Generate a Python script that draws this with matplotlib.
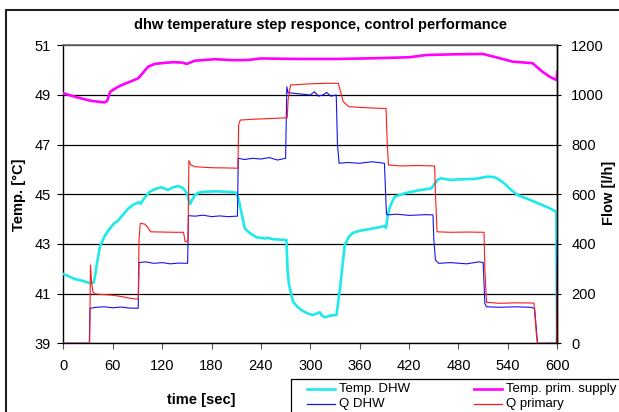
import matplotlib
matplotlib.use("Agg")
import matplotlib.pyplot as plt
from matplotlib.patches import Rectangle
from matplotlib.lines import Line2D

plt.rcParams['font.family'] = ['Liberation Sans', 'DejaVu Sans']

# ---------------- data ----------------
t_prim = [0, 15, 34, 50, 53, 57, 65, 71, 80, 91, 97, 103, 111, 125, 135, 145, 150, 160,
          184, 208, 225, 240, 287, 332, 380, 421, 441, 480, 510, 530, 546, 570, 581, 590,
          599, 600]
temp_prim = [49.07, 48.92, 48.76, 48.70, 48.75, 49.13, 49.30, 49.40, 49.52, 49.67, 49.90,
             50.14, 50.25, 50.30, 50.32, 50.30, 50.25, 50.38, 50.44, 50.40, 50.41, 50.47,
             50.45, 50.45, 50.48, 50.52, 50.61, 50.64, 50.65, 50.48, 50.34, 50.28, 49.96,
             49.75, 49.60, 49.92]

t_dhw = [0, 14, 25, 34, 37, 39, 41, 44.5, 50, 55, 61, 67, 73, 79, 85, 89, 92, 94, 97, 101,
         105, 112, 119, 124, 127, 133, 140, 145.6, 148, 151, 153.8, 156, 160, 164, 170, 185,
         200, 210, 213, 216.5, 220.5, 226, 234.7, 245, 248, 255, 271, 272.3, 274, 279, 285,
         291, 297, 303, 308, 311.5, 314, 317.6, 325, 331.8, 335.8, 341.9, 347, 352, 360, 370,
         380, 390.4, 392, 394.4, 398, 402.5, 414.7, 430, 447, 455, 459, 470, 480, 500, 515,
         523, 528, 537, 544, 552, 565, 576.5, 590, 598.8, 600]
temp_dhw = [41.79, 41.59, 41.50, 41.41, 41.45, 41.80, 42.25, 42.89, 43.30, 43.56, 43.80,
            43.96, 44.20, 44.43, 44.58, 44.64, 44.68, 44.62, 44.78, 44.95, 45.10, 45.22,
            45.28, 45.22, 45.17, 45.28, 45.33, 45.24, 45.15, 44.97, 44.60, 44.75, 44.97,
            45.06, 45.10, 45.12, 45.10, 45.06, 44.80, 44.23, 43.63, 43.45, 43.27, 43.22,
            43.25, 43.19, 43.16, 42.00, 41.40, 40.67, 40.45, 40.30, 40.20, 40.14, 40.20,
            40.25, 40.12, 40.05, 40.12, 40.14, 41.14, 42.96, 43.30, 43.45, 43.53, 43.59,
            43.65, 43.72, 43.65, 44.23, 44.60, 44.90, 45.04, 45.15, 45.24, 45.60, 45.64,
            45.58, 45.60, 45.62, 45.71, 45.70, 45.62, 45.40, 45.17, 44.97, 44.80, 44.64,
            44.45, 44.30, 38.0]

t_qdhw = [0, 31.6, 32.5, 40, 50, 60, 70, 80, 91, 92, 100, 110, 120, 130, 140, 151, 152, 160,
          170, 180, 190, 200, 211.5, 212.5, 220, 230, 240, 250, 260, 270, 271.5, 273, 285,
          300, 305, 310, 315, 320, 325, 331.5, 333, 335, 345, 360, 375, 390, 392.5, 393.5,
          405, 420, 440, 449, 450, 452, 456, 470, 490, 505, 510, 512, 514, 530, 550, 568,
          572.5, 576, 599, 600]
q_dhw = [0, 0, 141, 145, 147, 143, 146, 142, 141, 325, 328, 322, 325, 320, 323, 322, 514,
         512, 516, 510, 513, 510, 512, 745, 740, 745, 742, 748, 738, 745, 1033, 1009, 1005,
         1000, 1013, 995, 1000, 1010, 995, 1000, 800, 725, 728, 725, 731, 725, 520, 517,
         520, 515, 518, 517, 420, 335, 322, 325, 320, 328, 325, 160, 147, 145, 147, 145,
         140, 0, 0, 420]

t_qprim = [0, 32, 33, 34.5, 36, 38, 45, 59, 71, 80, 89, 91, 92, 93.5, 99, 103, 106, 120,
           135, 146, 148, 150, 151.5, 152.5, 155, 160, 180, 200, 212, 213, 215, 230, 250,
           272, 273, 276, 300, 320, 334, 337, 340, 346.7, 360, 385, 392, 393.5, 395, 410,
           430, 451, 452, 454, 470, 490, 511, 512, 514, 530, 550, 571.6, 575, 576, 599, 600]
q_prim = [0, 0, 315, 240, 208, 199, 197, 194, 188, 182, 178, 180, 420, 483, 480, 465, 449,
          448, 447, 447, 409, 412, 412, 736, 718, 711, 707, 706, 705, 880, 899, 902, 905,
          908, 980, 1040, 1045, 1047, 1047, 1010, 973, 953, 950, 946, 946, 800, 718, 714,
          716, 714, 600, 449, 447, 448, 447, 300, 165, 161, 163, 162, 20, 0, 0, 315]

x_ticks = list(range(0, 601, 60))
temp_ticks = list(range(39, 52, 2))
flow_ticks = list(range(0, 1201, 200))

# ---------------- figure ----------------
W, H = 619, 412
fig = plt.figure(figsize=(W / 100, H / 100), dpi=100)

# outer chart frame (cropped at right & bottom)
fig.patches.append(Rectangle((5.5 / W, -0.2), 2.0, 1 - 9.5 / H + 0.2, transform=fig.transFigure,
                             fill=False, ec='#222222', lw=1.5))

ax = fig.add_axes([63.3 / W, 1 - 343.3 / H, (557.3 - 63.3) / W, (343.3 - 45.3) / H])
ax.set_xlim(0, 600)
ax.set_ylim(39, 51)
ax.set_xticks(x_ticks)
ax.set_yticks(temp_ticks)
ax.grid(axis='y', color='black', lw=0.9)
ax.set_axisbelow(True)
for s in ['left', 'right', 'bottom']:
    ax.spines[s].set_color('black')
    ax.spines[s].set_linewidth(1.0)
ax.spines['top'].set_color('#666666')
ax.spines['top'].set_linewidth(1.2)
ax.tick_params(axis='y', direction='out', length=4.3, width=0.8, pad=5, labelsize=10.5)
ax.tick_params(axis='x', direction='out', length=4, width=0.8, pad=7, labelsize=10.5,
               color='#555555')

ax.plot(t_dhw, temp_dhw, color='#1EEAEA', lw=1.9, label='Temp. DHW', zorder=3)
ax.plot(t_prim, temp_prim, color='#FF00FF', lw=1.9, label='Temp. prim. supply', zorder=3)

ax2 = ax.twinx()
ax2.set_ylim(0, 1200)
ax2.set_yticks(flow_ticks)
ax2.tick_params(axis='y', direction='out', length=3, width=0.8, pad=7, labelsize=10.5)
for s in ax2.spines.values():
    s.set_visible(False)
ax2.spines['right'].set_visible(True)
ax2.spines['right'].set_color('black')
ax2.spines['right'].set_linewidth(1.0)

ax2.plot(t_qdhw, q_dhw, color='#1414F0', lw=0.8, label='Q DHW')
ax2.plot(t_qprim, q_prim, color='#FF1A1A', lw=0.8, label='Q primary')

# texts
fig.text(320 / W, 1 - 25 / H, 'dhw temperature step responce, control performance',
         ha='center', va='center', fontsize=10.5, weight='bold')
fig.text(19 / W, 1 - 194.3 / H, 'Temp. [°C]', rotation=90, ha='center', va='center',
         fontsize=10.5, weight='bold')
fig.text(609 / W, 1 - 193 / H, 'Flow [l/h]', rotation=90, ha='center', va='center',
         fontsize=10.5, weight='bold')
fig.text(201.5 / W, 1 - 400 / H, 'time [sec]', ha='center', va='center',
         fontsize=10.5, weight='bold')

# legend (box cropped at right & bottom)
fig.patches.append(Rectangle((290.5 / W, -0.2), 1.0, 1 - 379.5 / H + 0.2,
                             transform=fig.transFigure, fill=False, ec='black', lw=0.9))
legend_items = [
    ('Temp. DHW', '#1EEAEA', 1.9, 307, 389),
    ('Q DHW', '#1414F0', 0.9, 307, 404),
    ('Temp. prim. supply', '#FF00FF', 1.9, 474, 389),
    ('Q primary', '#FF1A1A', 0.9, 474, 404),
]
for lab, col, lw, x0, y0 in legend_items:
    fig.lines.append(Line2D([x0 / W, (x0 + 28) / W], [1 - y0 / H] * 2, color=col, lw=lw,
                            transform=fig.transFigure))
    fig.text((x0 + 32) / W, 1 - y0 / H, lab, ha='left', va='center', fontsize=9.5)

fig.savefig('out.png', dpi=100)
